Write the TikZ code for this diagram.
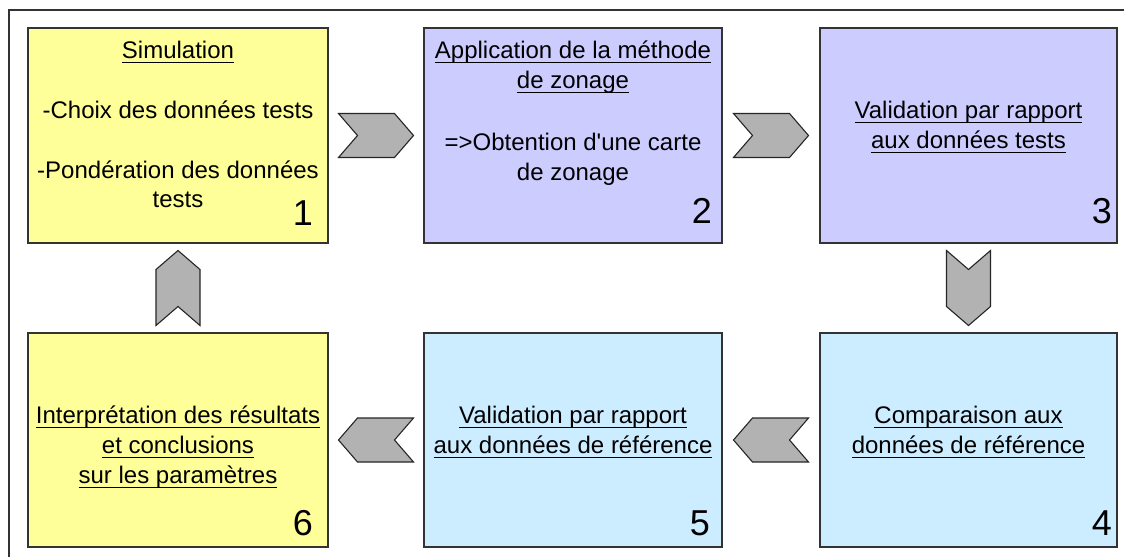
\documentclass[tikz,border=0pt]{standalone}
\usepackage{fontspec}
\setmainfont{Liberation Sans}
\usetikzlibrary{calc}
\definecolor{yel}{HTML}{FFFF99}
\definecolor{lav}{HTML}{CCCCFF}
\definecolor{sky}{HTML}{CCECFF}
\definecolor{chevgray}{HTML}{B2B2B2}
\definecolor{edgec}{HTML}{333333}
\newcommand\myul[1]{\setbox0\hbox{#1}\rlap{\rule[-5pt]{\wd0}{1.4pt}}\box0}
\tikzset{
  box/.style={draw=edgec, line width=1.1pt, inner sep=0pt, minimum height=215pt},
  txt/.style={inner sep=0pt, anchor=base, font=\fontsize{24}{30}\selectfont},
  num/.style={inner sep=0pt, anchor=base east, font=\fontsize{36}{40}\selectfont},
  chev/.pic={\draw[fill=chevgray, draw=black!85, line width=1.1pt, line join=miter]
     (-37.5,22) -- (18.5,22) -- (37.5,0) -- (18.5,-22) -- (-37.5,-22) -- (-18.5,0) -- cycle;}
}
\begin{document}
\begin{tikzpicture}[x=1pt, y=-1pt]
\useasboundingbox (0,0) rectangle (1124,557);
\fill[white] (0,0) rectangle (1124,557);
\draw[edgec, line width=2pt] (9,557) -- (9,10) -- (1124,10);
% boxes
\node[box, fill=yel, minimum width=300pt] (b1) at (178,135.5) {};
\node[box, fill=lav, minimum width=298pt] (b2) at (573,135.5) {};
\node[box, fill=lav, minimum width=297pt] (b3) at (968.5,135.5) {};
\node[box, fill=sky, minimum width=297pt, minimum height=214pt] (b4) at (968.5,440) {};
\node[box, fill=sky, minimum width=298pt, minimum height=214pt] (b5) at (573,440) {};
\node[box, fill=yel, minimum width=300pt, minimum height=214pt] (b6) at (178,440) {};
% box 1
\node[txt] (t1a) at (178,58) {\myul{Simulation}};
\node[txt] (t1b) at (178,118) {-Choix des données tests};
\node[txt] (t1c) at (178,178) {-Pondération des données};
\node[txt] (t1d) at (178,207) {tests};
\node[num] (n1) at (313,225) {1};
% box 2
\node[txt] (t2a) at (573,58) {\myul{Application de la méthode}};
\node[txt] (t2b) at (573,88) {\myul{de zonage}};
\node[txt] (t2c) at (573,150) {=>Obtention d\textquotesingle une carte};
\node[txt] (t2d) at (573,180) {de zonage};
\node[num] (n2) at (712,223) {2};
% box 3
\node[txt] (t3a) at (968.5,118) {\myul{Validation par rapport}};
\node[txt] (t3b) at (968.5,148) {\myul{aux données tests}};
\node[num] (n3) at (1112,223) {3};
% box 4
\node[txt] (t4a) at (968.5,423) {\myul{Comparaison aux}};
\node[txt] (t4b) at (968.5,453) {\myul{données de référence}};
\node[num] (n4) at (1112,535) {4};
% box 5
\node[txt] (t5a) at (573,423) {\myul{Validation par rapport}};
\node[txt] (t5b) at (573,453) {\myul{aux données de référence}};
\node[num] (n5) at (710,535) {5};
% box 6
\node[txt] (t6a) at (178,423) {\myul{Interprétation des résultats}};
\node[txt] (t6b) at (178,453) {\myul{et conclusions}};
\node[txt] (t6c) at (178,483) {\myul{sur les paramètres}};
\node[num] (n6) at (313,535) {6};
% chevrons between boxes
\coordinate (c12) at ($(b1.east)!0.5!(b2.west)$);
\coordinate (c23) at ($(b2.east)!0.5!(b3.west)$);
\coordinate (c34) at ($(b3.south)!0.5!(b4.north)$);
\coordinate (c45) at ($(b4.west)!0.5!(b5.east)$);
\coordinate (c56) at ($(b5.west)!0.5!(b6.east)$);
\coordinate (c61) at ($(b6.north)!0.5!(b1.south)$);
\pic at (c12) {chev};
\pic at (c23) {chev};
\pic[rotate=-90] at (c34) {chev};
\pic[rotate=180] at (c45) {chev};
\pic[rotate=180] at (c56) {chev};
\pic[rotate=90] at (c61) {chev};
\end{tikzpicture}
\end{document}
